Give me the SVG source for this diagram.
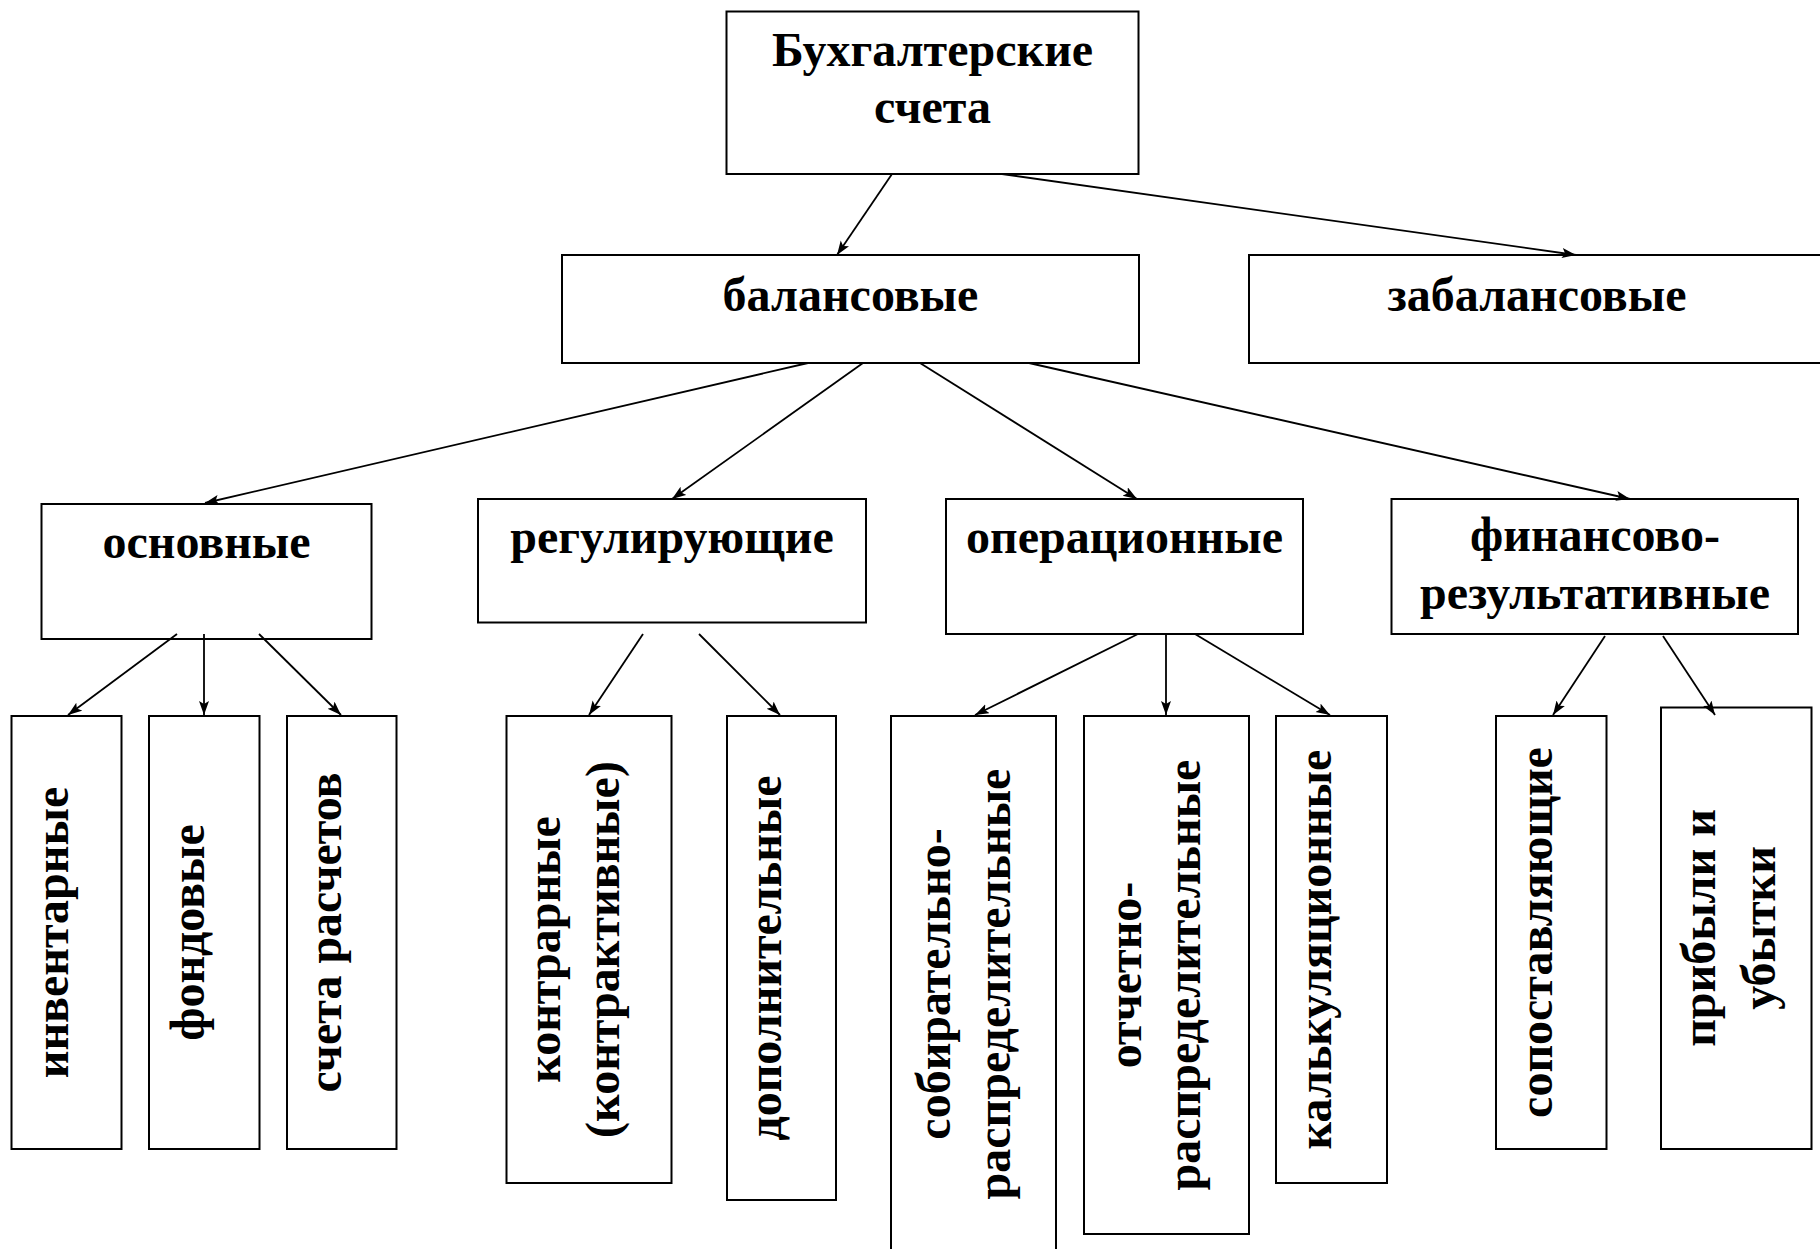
<svg xmlns="http://www.w3.org/2000/svg" width="1820" height="1249" viewBox="0 0 1820 1249">
<style>
.box{fill:#fff;stroke:#000;stroke-width:2}
.t{font-family:"Liberation Serif","Times New Roman",serif;font-weight:bold;font-size:48px;fill:#000;text-anchor:middle}
.c line{stroke:#000;stroke-width:1.8;marker-end:url(#arr)}
</style>
<defs>
<marker id="arr" markerUnits="userSpaceOnUse" markerWidth="16" markerHeight="12" refX="14" refY="5" orient="auto">
<path d="M0,0 L14,5 L0,10 L3,5 z" fill="#000"/>
</marker>
</defs>
<rect width="1820" height="1249" fill="#fff"/>
<g id="n-root"><rect class="box" x="726.5" y="11.5" width="412" height="162.5"/><text class="t" x="932.5" y="66">Бухгалтерские</text><text class="t" x="932.5" y="123">счета</text></g>
<g id="n-bal"><rect class="box" x="562" y="255" width="577" height="108"/><text class="t" x="850.5" y="311">балансовые</text></g>
<g id="n-zab"><rect class="box" x="1249" y="255" width="573" height="108"/><text class="t" x="1537" y="311">забалансовые</text></g>
<g id="n-osn"><rect class="box" x="41.5" y="504" width="330" height="135"/><text class="t" x="206.5" y="558">основные</text></g>
<g id="n-reg"><rect class="box" x="478" y="499" width="388" height="123.5"/><text class="t" x="672" y="553">регулирующие</text></g>
<g id="n-oper"><rect class="box" x="946" y="499" width="357" height="135"/><text class="t" x="1124.5" y="553">операционные</text></g>
<g id="n-fin"><rect class="box" x="1391.5" y="499" width="406.5" height="135"/><text class="t" x="1595" y="551">финансово-</text><text class="t" x="1595" y="609">результативные</text></g>
<g id="n-inv"><rect class="box" x="11.5" y="716" width="110" height="433"/><text class="t" transform="translate(68,932.5) rotate(-90)">инвентарные</text></g>
<g id="n-fond"><rect class="box" x="149" y="716" width="110.5" height="433"/><text class="t" transform="translate(204,932.5) rotate(-90)">фондовые</text></g>
<g id="n-sch"><rect class="box" x="287" y="716" width="109.5" height="433"/><text class="t" transform="translate(341,932.5) rotate(-90)">счета расчетов</text></g>
<g id="n-kontr"><rect class="box" x="506.5" y="716" width="165" height="467"/><text class="t" transform="translate(560,949.5) rotate(-90)">контрарные</text><text class="t" transform="translate(619,949.5) rotate(-90)">(контрактивные)</text></g>
<g id="n-dop"><rect class="box" x="727" y="716" width="109" height="484"/><text class="t" transform="translate(781,958) rotate(-90)">дополнительные</text></g>
<g id="n-sob"><rect class="box" x="891" y="716" width="165" height="537"/><text class="t" transform="translate(950,984) rotate(-90)">собирательно-</text><text class="t" transform="translate(1010,984) rotate(-90)">распределительные</text></g>
<g id="n-otch"><rect class="box" x="1084" y="716" width="165" height="518"/><text class="t" transform="translate(1141,975) rotate(-90)">отчетно-</text><text class="t" transform="translate(1200,975) rotate(-90)">распределительные</text></g>
<g id="n-kalk"><rect class="box" x="1276" y="716" width="111" height="467"/><text class="t" transform="translate(1331,949.5) rotate(-90)">калькуляционные</text></g>
<g id="n-sop"><rect class="box" x="1496" y="716" width="110.5" height="433"/><text class="t" transform="translate(1552,932.5) rotate(-90)">сопоставляющие</text></g>
<g id="n-prib"><rect class="box" x="1661" y="707.5" width="150.5" height="441.5"/><text class="t" transform="translate(1715,928) rotate(-90)">прибыли и</text><text class="t" transform="translate(1775,928) rotate(-90)">убытки</text></g>
<g id="connectors" class="c">
<line x1="892" y1="174" x2="837" y2="255"/>
<line x1="1002" y1="174" x2="1576" y2="255"/>
<line x1="808" y1="363" x2="205" y2="503"/>
<line x1="863" y1="363" x2="672" y2="499"/>
<line x1="920" y1="363" x2="1137" y2="499"/>
<line x1="1029" y1="363" x2="1630" y2="499"/>
<line x1="177" y1="634" x2="68" y2="715"/>
<line x1="204" y1="634" x2="204" y2="715"/>
<line x1="259" y1="634" x2="341" y2="715"/>
<line x1="643" y1="634" x2="589" y2="715"/>
<line x1="699" y1="634" x2="780" y2="715"/>
<line x1="1138" y1="634" x2="975" y2="715"/>
<line x1="1166" y1="634" x2="1166" y2="715"/>
<line x1="1195" y1="634" x2="1330" y2="715"/>
<line x1="1605" y1="636" x2="1553" y2="715"/>
<line x1="1663" y1="636" x2="1715" y2="715"/>
</g>
</svg>
